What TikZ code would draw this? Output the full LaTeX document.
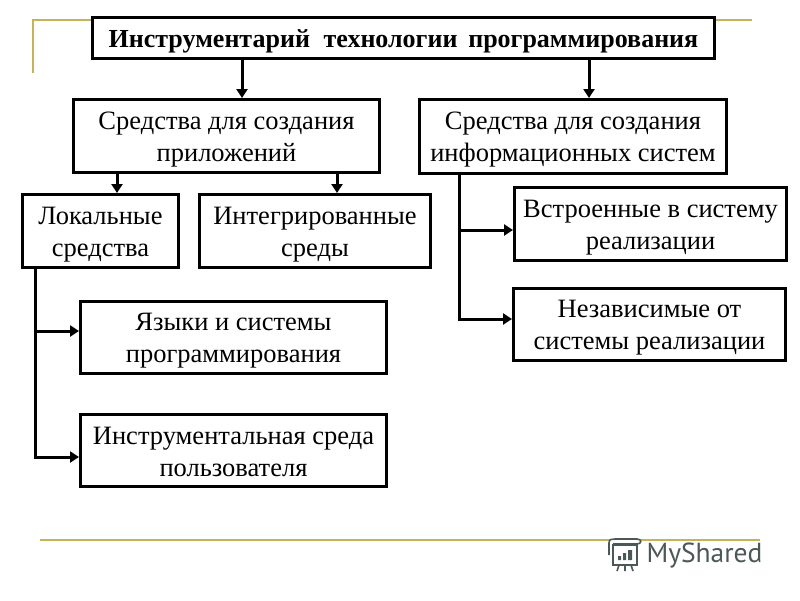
\documentclass[tikz,border=0pt]{standalone}
\usepackage{fontspec}
\setmainfont{Liberation Serif}
\newfontfamily\logofont{PT Sans}
\usetikzlibrary{arrows.meta}
\definecolor{goldline}{rgb}{0.78, 0.70, 0.36}
\definecolor{logogray}{rgb}{0.30, 0.34, 0.34}
\newcommand{\firstln}[1][24pt]{\rule{0pt}{#1}}

\tikzset{
    box/.style={draw=black, fill=white, line width=3pt, align=center, inner sep=0pt,
        font=\fontsize{26.5}{32}\selectfont},
    link/.style={line width=3pt, -{Triangle[length=9pt, width=11pt]}},
    rule/.style={goldline, line width=2pt},
    logo/.style={logogray, line width=1.6pt}
}

\begin{document}
\begin{tikzpicture}[x=1pt, y=-1pt]

    \useasboundingbox (0,0) rectangle (800,600);

    \draw[rule] (33,73) -- (33,20) -- (752,20);
    \draw[rule] (40,540) -- (760,540);

    \node[box, font=\bfseries\fontsize{26}{32}\selectfont, minimum width=622pt, minimum height=41pt] (top) at (403.5,38) {\firstln Инструментарий\; технологии\, программирования};
    \node[box, minimum width=306pt, minimum height=73pt] (app) at (226.5,136) {\firstln Средства для создания\\приложений};
    \node[box, minimum width=307pt, minimum height=74pt] (sys) at (573,136.5) {\firstln Средства для создания\\информационных систем};
    \node[box, minimum width=156pt, minimum height=73pt] (local) at (100.5,231) {\firstln Локальные\\средства};
    \node[box, minimum width=231pt, minimum height=73pt] (ide) at (315,231) {\firstln Интегрированные\\среды};
    \node[box, minimum width=306pt, minimum height=72pt] (lang) at (233.5,337.5) {\firstln Языки и системы\\программирования};
    \node[box, minimum width=306pt, minimum height=72pt] (env) at (233.5,450.5) {\firstln[21pt]Инструментальная среда\\пользователя};
    \node[box, minimum width=272pt, minimum height=73pt] (emb) at (650.5,224) {\firstln Встроенные в систему\\реализации};
    \node[box, minimum width=272pt, minimum height=72pt] (ind) at (649.5,324.5) {\firstln Независимые от\\системы реализации};

    % the connectors do not leave from the middle of the boxes
    \coordinate (topA) at (242,0);
    \coordinate (topB) at (589,0);
    \coordinate (appA) at (117,0);
    \coordinate (appB) at (337,0);
    \coordinate (localT) at (35,0);
    \coordinate (sysT) at (459,0);
    \coordinate (langIn) at (0,331);
    \coordinate (envIn) at (0,457);
    \coordinate (embIn) at (0,230);
    \coordinate (indIn) at (0,319);

    \draw[link] (top.south -| topA) -- (app.north -| topA);
    \draw[link] (top.south -| topB) -- (sys.north -| topB);
    \draw[link] (app.south -| appA) -- (local.north -| appA);
    \draw[link] (app.south -| appB) -- (ide.north -| appB);

    \draw[link] (local.south -| localT) |- (env.west |- envIn);
    \draw[link] (localT |- langIn) -- (lang.west |- langIn);
    \draw[link] (sys.south -| sysT) |- (ind.west |- indIn);
    \draw[link] (sysT |- embIn) -- (emb.west |- embIn);

    \draw[logo, fill=white] (609,555) -- (609,543) .. controls (609,539) and (612,539) .. (615,539) -- (637,539) .. controls (642,539) and (642,544) .. (637,544) -- (613,544);
    \draw[logo, fill=white] (613,545) rectangle (637,565);
    \draw[logo] (619,565) -- (617,571) (625,565) -- (625,571) (631,565) -- (633,571);
    \fill[logogray] (618,556) rectangle (621,560) (623,553) rectangle (626,560) (628,550) rectangle (632,560);
    \node[logogray, font=\logofont\fontsize{27.5}{27.5}\selectfont, inner sep=0pt] (brand) at (704.5,556) {MyShared};

\end{tikzpicture}
\end{document}
